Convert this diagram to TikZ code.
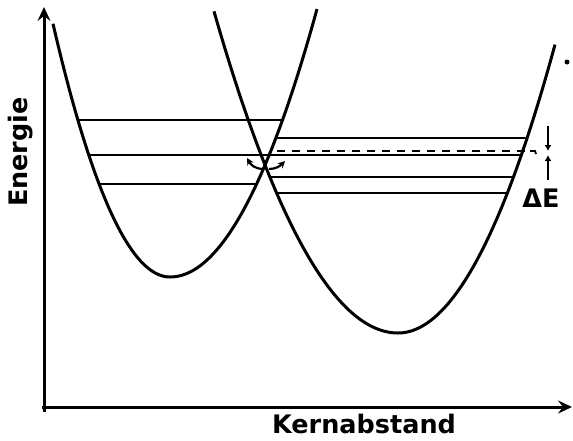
\documentclass[tikz,border=0pt]{standalone}
\usepackage{fontspec}
\setmainfont{DejaVu Sans}
\usetikzlibrary{arrows.meta}
\begin{document}
\begin{tikzpicture}[x=1pt,y=-1pt,
  curve/.style={line width=3pt,line join=round},
  level/.style={line width=2.2pt},
  axis/.style={line width=3pt,-{Stealth[length=14pt,width=13pt,inset=5pt]}},
  lbl/.style={font=\fontsize{25.5}{30}\selectfont\bfseries,inner sep=0pt},
  small/.style={line width=2.2pt,-{Latex[length=6pt,width=7pt]}}]
\useasboundingbox (0,0) rectangle (573,440);
% axes
\coordinate (ytop) at (44,7);
\coordinate (xend) at (572,407);
\draw[axis] (44,412) -- (ytop);
\draw[axis] (42,407) -- (xend);
% left potential well
\draw[curve] plot[domain=53:170,samples=60] (\x,{277-(0.13601*(\x-170))*(0.13601*(\x-170))})
  -- plot[domain=170:317,samples=70] (\x,{277-(0.11136*(\x-170))*(0.11136*(\x-170))});
% right potential well
\draw[curve] plot[domain=214:398,samples=80] (\x,{333-(0.09747*(\x-398))*(0.09747*(\x-398))})
  -- plot[domain=398:555,samples=70] (\x,{333-(0.10817*(\x-398))*(0.10817*(\x-398))});
% levels, left well
\draw[level] (78,120) -- (283,120);
\draw[level] (89,155) -- (521,155);
\draw[level] (99,184) -- (257,184);
% levels, right well
\draw[level] (276,138) -- (527,138);
\draw[level] (270,177) -- (513,177);
\draw[level] (277,193) -- (507,193);
\draw[line width=2pt,dash pattern=on 8pt off 7pt] (277,151) -- (532,151);
\draw[line width=1.8pt] (530,151) -- (535,151) -- (536,154);
% transition arrows
\draw[line width=2.2pt,-{Stealth[length=7pt,width=7pt]}] (262,169) .. controls (254,168) and (251,165) .. (247,158);
\draw[line width=2.2pt,-{Stealth[length=7pt,width=7pt]}] (269,169) .. controls (276,169) and (280,166) .. (285,161);
% Delta E marker
\coordinate (dtop) at (548,126);
\coordinate (dbot) at (548,180);
\draw[small] (dtop) -- (548,151);
\draw[small] (dbot) -- (548,155);
\fill (567,62) circle (2.5);
% labels
\node[lbl] (ener) at (21,152) [rotate=90] {Energie};
\node[lbl] (kern) at (364,424) {Kernabstand};
\node[lbl] (de) at (541,198) {ΔE};
\end{tikzpicture}
\end{document}
